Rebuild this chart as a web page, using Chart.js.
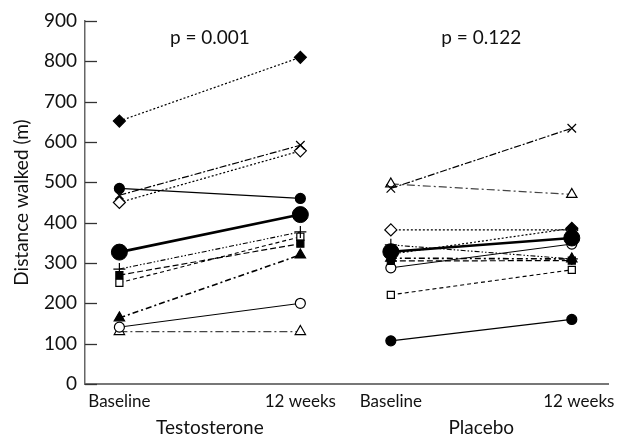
<!DOCTYPE html>
<html>
<head>
<meta charset="utf-8">
<script src="https://cdn.jsdelivr.net/npm/chart.js@4"></script>
<style>
html,body{margin:0;padding:0;background:#fff;}
#wrap{width:617px;height:436px;}
</style>
</head>
<body>
<div id="wrap"><canvas id="c" width="617" height="436"></canvas></div>
<script>
// ---- data ----
const groups = ['Testosterone', 'Placebo'];
const timeLabels = ['Baseline', '12 weeks'];
const pValues = ['p = 0.001', 'p = 0.122'];
const yTicks = [0, 100, 200, 300, 400, 500, 600, 700, 800, 900];
// positions of the four time points on the x axis
const xPositions = [1, 3, 4, 6];
const markers = ['diamondF', 'cross', 'diamondO', 'circleF', 'mean', 'plus', 'squareF', 'squareO', 'triF', 'circleO', 'triO'];
const testoBaseline  = [652, 468, 450, 485, 327, 285, 270, 251, 164, 141, 130];
const testo12weeks   = [810, 592, 578, 460, 420, 377, 348, 365, 320, 200, 130];
const placeboBaseline = [322, 485, 382, 107, 328, 345, 305, 221, 312, 288, 496];
const placebo12weeks  = [386, 634, 382, 160, 362, 310, 306, 283, 310, 347, 470];

// ---- styles ----
const styleOf = {
  diamondF: {ps: 'rectRot', r: 6, fill: '#000', dash: [2, 2], w: 1.2, c: '#000'},
  cross:    {ps: 'crossRot', r: 6, fill: '#000', dash: [7, 2, 2, 2], w: 1.2, c: '#000'},
  diamondO: {ps: 'rectRot', r: 6, fill: '#fff', dash: [2, 2], w: 1.2, c: '#000'},
  circleF:  {ps: 'circle', r: 5, fill: '#000', dash: [], w: 1.3, c: '#000'},
  mean:     {ps: 'circle', r: 8, fill: '#000', dash: [], w: 2.6, c: '#000'},
  plus:     {ps: 'cross', r: 6, fill: '#000', dash: [5, 2, 1.5, 2, 1.5, 2], w: 1.1, c: '#000'},
  squareF:  {ps: 'rect', r: 5, fill: '#000', dash: [6, 3], w: 1.2, c: '#000'},
  squareO:  {ps: 'rect', r: 5, fill: '#fff', dash: [4, 3], w: 1.1, c: '#000'},
  triF:     {ps: 'triangle', r: 6, fill: '#000', dash: [6, 3, 2, 3], w: 1.6, c: '#000'},
  circleO:  {ps: 'circle', r: 5, fill: '#fff', dash: [], w: 1.0, c: '#000'},
  triO:     {ps: 'triangle', r: 6, fill: '#fff', dash: [8, 3, 2, 3], w: 1.2, c: '#444'}
};

const datasets = [];
function addGroup(base, wk, xa, xb) {
  markers.forEach((m, i) => {
    const s = styleOf[m];
    datasets.push({
      data: [{x: xa, y: base[i]}, {x: xb, y: wk[i]}],
      borderColor: s.c,
      borderWidth: s.w,
      borderDash: s.dash,
      pointStyle: s.ps,
      pointRadius: s.r,
      pointBackgroundColor: s.fill,
      pointBorderColor: '#000',
      pointBorderWidth: m === 'mean' ? 1 : 1.2,
      showLine: true,
      order: m === 'mean' ? 0 : 1
    });
  });
}
addGroup(testoBaseline, testo12weeks, xPositions[0], xPositions[1]);
addGroup(placeboBaseline, placebo12weeks, xPositions[2], xPositions[3]);

const FONT = 'Lato, "Open Sans", sans-serif';

const annot = {
  id: 'annot',
  afterDraw(chart) {
    const ctx = chart.ctx;
    const xs = chart.scales.x, ys = chart.scales.y;
    const left = chart.chartArea.left;
    ctx.save();
    // inward tick marks on y axis
    ctx.strokeStyle = '#333';
    ctx.lineWidth = 1.3;
    yTicks.forEach(v => {
      const y = Math.round(ys.getPixelForValue(v)) + 0.5;
      ctx.beginPath();
      ctx.moveTo(left, y);
      ctx.lineTo(left + 12, y);
      ctx.stroke();
    });
    // time labels
    ctx.fillStyle = '#111';
    ctx.textAlign = 'center';
    ctx.textBaseline = 'middle';
    ctx.font = '17px ' + FONT;
    xPositions.forEach((p, i) => {
      const off = i === 3 ? 7 : 0;
      ctx.fillText(timeLabels[i % 2], xs.getPixelForValue(p) + off, 402);
    });
    // group labels and p values
    ctx.font = '19px ' + FONT;
    groups.forEach((g, i) => {
      const cx = (xs.getPixelForValue(xPositions[2 * i]) + xs.getPixelForValue(xPositions[2 * i + 1])) / 2;
      ctx.fillText(g, cx, 428);
      ctx.fillText(pValues[i], cx, 38);
    });
    ctx.restore();
  }
};

new Chart(document.getElementById('c'), {
  type: 'scatter',
  data: {datasets},
  plugins: [annot],
  options: {
    responsive: false,
    animation: false,
    layout: {padding: {top: 21, right: 0, left: 0, bottom: 0}},
    plugins: {legend: {display: false}, tooltip: {enabled: false}},
    scales: {
      x: {
        type: 'linear',
        min: 0.62,
        max: 6.4,
        grid: {display: false},
        ticks: {display: false},
        border: {color: '#777', width: 2},
        afterFit(s) { s.height = 52; }
      },
      y: {
        type: 'linear',
        min: 0,
        max: 900,
        afterBuildTicks(s) { s.ticks = yTicks.map(v => ({value: v})); },
        ticks: {color: '#111', font: {size: 19, family: FONT}, padding: 8},
        grid: {display: false, drawTicks: false},
        border: {color: '#666', width: 1.5},
        title: {display: true, text: 'Distance walked (m)', color: '#111', font: {size: 19, family: FONT}, padding: {top: 10, bottom: 0}},
        afterFit(s) { s.width = 85; }
      }
    }
  }
});
</script>
</body>
</html>
